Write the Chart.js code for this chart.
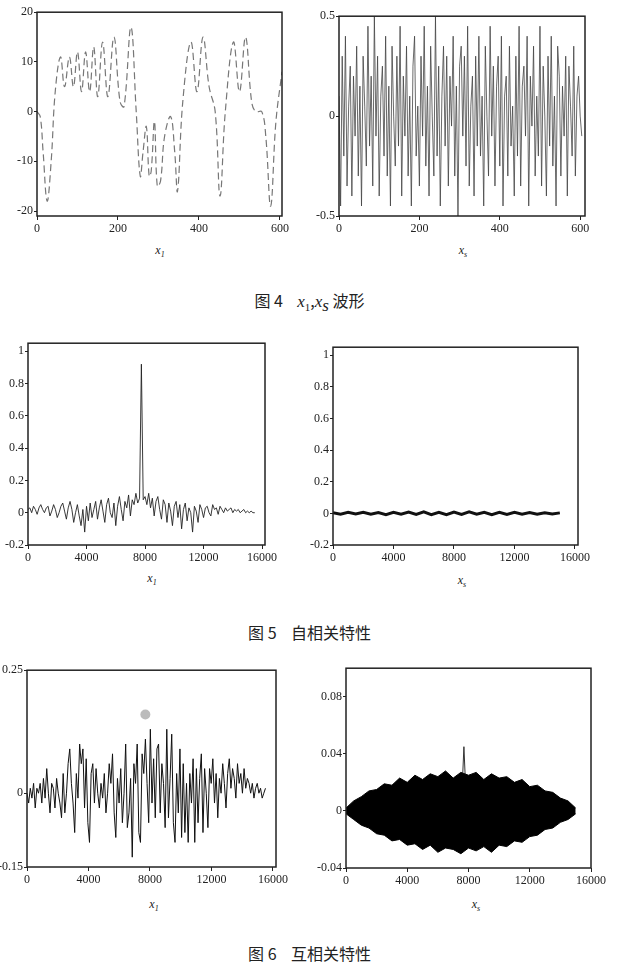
<!DOCTYPE html>
<html>
<head>
<meta charset="utf-8">
<script src="https://cdn.jsdelivr.net/npm/chart.js@4"></script>
<style>
  body { margin: 0; background: #fff; width: 619px; height: 971px; position: relative; overflow: hidden; }
  canvas { position: absolute; }
  .lbl { position: absolute; font-family: "Liberation Serif", serif; font-style: italic; font-size: 12px; color: #222; transform: translateX(-50%); }
  .lbl sub { font-size: 8px; }
  .cap { position: absolute; left: 0; width: 619px; text-align: center; font-family: "Noto Sans CJK SC", serif; font-size: 16px; color: #222; }
  .cap i { font-family: "Liberation Serif", serif; font-size: 17px; }
  .cap sub { font-family: "Liberation Serif", serif; font-size: 11px; }
</style>
</head>
<body>
<div class="lbl" style="left:160px;top:243px">x<sub>1</sub></div>
<div class="lbl" style="left:463px;top:243px">x<sub>s</sub></div>
<div class="cap" style="top:288px">图 4&nbsp;&nbsp;&nbsp;&nbsp;<i>x</i><sub>1</sub>,<i>x</i><sub><i>s</i></sub> 波形</div>
<div class="lbl" style="left:152px;top:571px">x<sub>1</sub></div>
<div class="lbl" style="left:462px;top:573px">x<sub>s</sub></div>
<div class="cap" style="top:620px">图 5&nbsp;&nbsp;&nbsp;&nbsp;自相关特性</div>
<div class="lbl" style="left:154px;top:897px">x<sub>1</sub></div>
<div class="lbl" style="left:476px;top:897px">x<sub>s</sub></div>
<div class="cap" style="top:941px">图 6&nbsp;&nbsp;&nbsp;&nbsp;互相关特性</div>
<script>
// Fig 4 left: x1 waveform
const waveX = [0,8,15,25,35,45,58,68,80,90,100,110,120,130,140,150,162,175,190,205,215,232,245,255,262,270,277,282,290,297,305,315,330,340,347,360,380,395,410,425,440,452,465,485,500,515,530,540,555,565,577,590,605];
const waveY = [0,-1,-8,-18,-10,4,11,5,11,5,12,4,12,4,13,3,14,3,15,2,1,17,0,-13,-8,-3,-13,-12,-2,-15,-14,-5,-1,-8,-16,2,14,4,15,5,0,-17,0,14,4,15,2,0,0,-5,-19,-2,8];

// Fig 4 right: xs noise, step 4
const noiseStep = 4;
const noiseY = [0.1,-0.45,0.3,-0.2,0.4,-0.35,0.05,0.25,-0.4,0.2,
  -0.1,0.35,-0.3,0.15,-0.45,0.3,0.05,-0.25,0.45,-0.15,
  0.2,-0.35,0.5,-0.1,0.3,-0.4,0.1,0.25,-0.2,0.4,
  -0.3,0.15,-0.45,0.35,0.0,-0.25,0.3,-0.15,0.45,-0.4,
  0.2,-0.1,0.35,-0.3,0.1,-0.45,0.25,0.4,-0.2,0.05,
  -0.35,0.3,-0.1,0.45,-0.25,0.15,-0.4,0.35,0.0,-0.3,
  0.5,-0.2,0.25,-0.45,0.1,0.35,-0.15,0.3,-0.35,0.2,
  -0.05,0.4,-0.3,0.15,-0.5,0.25,0.35,-0.1,0.3,-0.25,
  0.45,-0.35,0.05,0.2,-0.4,0.3,-0.15,0.4,-0.2,0.1,
  -0.45,0.35,0.0,-0.3,0.45,-0.1,0.25,-0.35,0.15,0.3,
  -0.25,0.4,-0.45,0.1,0.2,-0.3,0.35,-0.15,0.05,-0.4,
  0.3,-0.2,0.45,-0.35,0.15,0.25,-0.1,0.4,-0.45,0.2,
  -0.05,0.35,-0.3,0.1,-0.2,0.45,-0.35,0.25,0.0,-0.4,
  0.3,-0.15,0.4,-0.25,0.1,-0.45,0.35,0.2,-0.3,0.15,
  -0.1,0.3,-0.4,0.25,0.05,-0.2,0.35,-0.3,0.1,0.2,
  0.0,-0.1];

// Fig 5 left: autocorrelation of x1, step 125
const autoStep = 125;
const autoY = [0.02,0.03,0.0,0.04,0.02,-0.01,0.03,0.05,0.02,0.0,
  0.03,0.04,-0.02,0.01,0.05,0.02,-0.03,0.0,0.04,0.06,
  0.01,-0.04,0.03,0.07,0.02,-0.06,0.0,0.05,-0.02,-0.08,
  0.02,-0.12,0.04,-0.05,0.06,-0.03,0.02,0.07,-0.04,0.03,
  0.08,0.01,-0.06,0.05,0.09,0.0,-0.03,0.06,-0.08,0.04,
  0.1,0.02,-0.05,0.07,0.03,0.11,-0.02,0.08,0.05,0.12,
  0.06,0.09,0.92,0.08,0.1,0.05,0.12,0.03,0.09,-0.02,
  0.07,0.1,0.02,-0.04,0.08,0.05,-0.06,0.06,0.01,-0.08,
  0.04,0.07,-0.03,0.05,-0.1,0.02,0.06,-0.05,0.03,0.0,
  -0.12,0.04,0.01,-0.06,0.05,0.02,-0.03,0.03,0.04,0.0,
  -0.02,0.05,0.02,0.03,-0.01,0.04,0.02,0.0,0.03,0.01,
  0.02,0.03,0.0,0.02,0.01,0.02,0.0,0.01,0.02,0.0,
  0.01,0.0,0.01,0.0,0.0];

// Fig 5 right: autocorrelation of xs, step 500
const autoSStep = 500;
const autoSY = [0.004,-0.005,0.006,-0.004,0.007,-0.006,0.005,-0.008,0.007,-0.006,
  0.008,-0.007,0.009,-0.008,0.007,-0.009,0.008,-0.007,0.009,-0.006,
  0.007,-0.008,0.006,-0.007,0.006,-0.005,0.005,-0.006,0.004,-0.004,0.003];

// Fig 6 left: cross-correlation of x1, step 107
const crossStep = 107;
const crossY = [0.0,-0.02,0.01,-0.01,0.02,-0.03,0.01,0.0,0.02,-0.02,
  0.03,-0.01,0.05,0.0,-0.04,0.02,0.01,-0.03,0.03,0.0,
  -0.02,-0.05,0.04,-0.04,0.0,0.06,0.09,0.02,-0.02,-0.08,
  0.04,-0.01,0.1,0.06,0.09,-0.03,0.07,-0.06,-0.1,0.04,
  0.06,-0.02,0.05,0.0,-0.03,0.02,-0.01,0.04,-0.04,0.0,
  0.06,0.02,0.08,-0.04,-0.09,0.03,-0.02,0.05,-0.06,0.0,
  0.1,-0.07,-0.04,0.03,-0.13,0.06,0.02,0.1,-0.08,-0.1,
  0.08,0.04,0.11,0.02,-0.06,0.13,-0.02,0.07,-0.05,0.09,
  0.1,-0.04,0.06,0.02,-0.07,0.13,-0.05,0.03,0.12,-0.06,
  -0.1,0.04,-0.04,0.09,-0.09,0.06,-0.08,0.02,-0.1,0.04,
  -0.02,0.07,-0.1,0.05,-0.06,0.03,0.08,-0.08,0.05,0.0,
  -0.07,0.05,0.02,0.07,-0.02,0.04,-0.05,0.03,0.0,0.06,
  0.02,-0.03,0.04,0.07,0.01,0.05,0.03,-0.01,0.06,0.02,
  0.04,0.0,0.05,0.01,0.03,0.02,0.0,0.02,-0.01,0.01,
  0.02,0.0,0.01,-0.01,0.0,0.01];
const dotX = [7700];
const dotY = [0.16];

// Fig 6 right: cross-correlation of xs, envelope, step 500
const envStep = 500;
const envUpper = [0.002,0.007,0.01,0.014,0.015,0.019,0.018,0.023,0.02,0.025,0.022,0.026,0.024,0.028,0.023,0.027,0.025,0.027,0.022,0.026,0.023,0.024,0.02,0.022,0.017,0.018,0.014,0.013,0.009,0.007,0.002];
const envLower = [-0.002,-0.006,-0.01,-0.012,-0.016,-0.017,-0.021,-0.02,-0.024,-0.023,-0.027,-0.024,-0.029,-0.026,-0.027,-0.03,-0.026,-0.028,-0.025,-0.029,-0.024,-0.025,-0.021,-0.022,-0.018,-0.017,-0.013,-0.012,-0.008,-0.006,-0.002];
const spikeX = [7600,7700,7800];
const spikeY = [0.02,0.045,0.02];

// tick labels
const ticksA = { x: [0,200,400,600], y: [-20,-10,0,10,20] };
const ticksB = { x: [0,200,400,600], y: [-0.5,0,0.5] };
const ticksC = { x: [0,4000,8000,12000,16000], y: [-0.2,0,0.2,0.4,0.6,0.8,1] };
const ticksE = { x: [0,4000,8000,12000,16000], y: [-0.15,0,0.25] };
const ticksF = { x: [0,4000,8000,12000,16000], y: [-0.04,0,0.04,0.08] };

const pts = (xs, ys) => ys.map((y, i) => ({ x: xs[i], y }));
const stepPts = (step, ys) => ys.map((y, i) => ({ x: i * step, y }));

const boxPlugin = {
  id: 'box',
  afterDraw(chart) {
    const a = chart.chartArea, c = chart.ctx;
    c.save();
    c.strokeStyle = '#222';
    c.lineWidth = 1.5;
    c.strokeRect(a.left, a.top, a.right - a.left, a.bottom - a.top);
    c.restore();
  }
};

const YW = 32, XH = 22, PT = 8, PR = 18;

function panel(box, xr, yr, ticks, datasets) {
  const cv = document.createElement('canvas');
  const w = box[2] - box[0] + YW + PR, h = box[3] - box[1] + PT + XH;
  cv.width = w; cv.height = h;
  cv.style.left = (box[0] - YW) + 'px';
  cv.style.top = (box[1] - PT) + 'px';
  document.body.appendChild(cv);
  const font = { family: 'Liberation Serif', size: 12 };
  new Chart(cv, {
    type: 'line',
    data: { datasets },
    plugins: [boxPlugin],
    options: {
      responsive: false,
      animation: false,
      layout: { padding: { top: PT, right: PR, left: 0, bottom: 0 } },
      plugins: { legend: { display: false }, tooltip: { enabled: false } },
      elements: { point: { radius: 0 } },
      scales: {
        x: {
          type: 'linear', min: xr[0], max: xr[1],
          afterBuildTicks: s => { s.ticks = ticks.x.map(v => ({ value: v })); },
          afterFit: s => { s.height = XH; },
          grid: { drawOnChartArea: false, tickLength: 4, color: '#222' },
          border: { display: false },
          ticks: { color: '#222', font, padding: 2, maxRotation: 0, callback: v => String(v) }
        },
        y: {
          type: 'linear', min: yr[0], max: yr[1],
          afterBuildTicks: s => { s.ticks = ticks.y.map(v => ({ value: v })); },
          afterFit: s => { s.width = YW; },
          grid: { drawOnChartArea: false, tickLength: 3, color: '#222' },
          border: { display: false },
          ticks: { color: '#222', font, padding: 1, callback: v => String(v) }
        }
      }
    }
  });
}

panel([37,12,282,216], [0,605], [-21,20], ticksA, [
  { data: pts(waveX, waveY), borderColor: '#777', borderWidth: 1.2, borderDash: [7,4], tension: 0.4 }
]);
panel([339,16,585,216], [0,612], [-0.5,0.5], ticksB, [
  { data: stepPts(noiseStep, noiseY), borderColor: '#444', borderWidth: 0.8 }
]);
panel([28,343,265,545], [0,16200], [-0.2,1.05], ticksC, [
  { data: stepPts(autoStep, autoY), borderColor: '#222', borderWidth: 0.9 }
]);
panel([333,347,578,545], [0,16200], [-0.2,1.05], ticksC, [
  { data: stepPts(autoSStep, autoSY), borderColor: '#111', borderWidth: 3 }
]);
panel([27,670,276,867], [0,16200], [-0.15,0.25], ticksE, [
  { data: stepPts(crossStep, crossY), borderColor: '#111', borderWidth: 1 },
  { type: 'scatter', data: pts(dotX, dotY), pointRadius: 5, backgroundColor: '#bbb', borderWidth: 0 }
]);
panel([346,668,591,868], [0,16000], [-0.04,0.1], ticksF, [
  { data: stepPts(envStep, envUpper), borderColor: '#000', borderWidth: 1, backgroundColor: '#000', fill: '+1' },
  { data: stepPts(envStep, envLower), borderColor: '#000', borderWidth: 1 },
  { data: pts(spikeX, spikeY), borderColor: '#333', borderWidth: 1 }
]);
</script>
</body>
</html>
